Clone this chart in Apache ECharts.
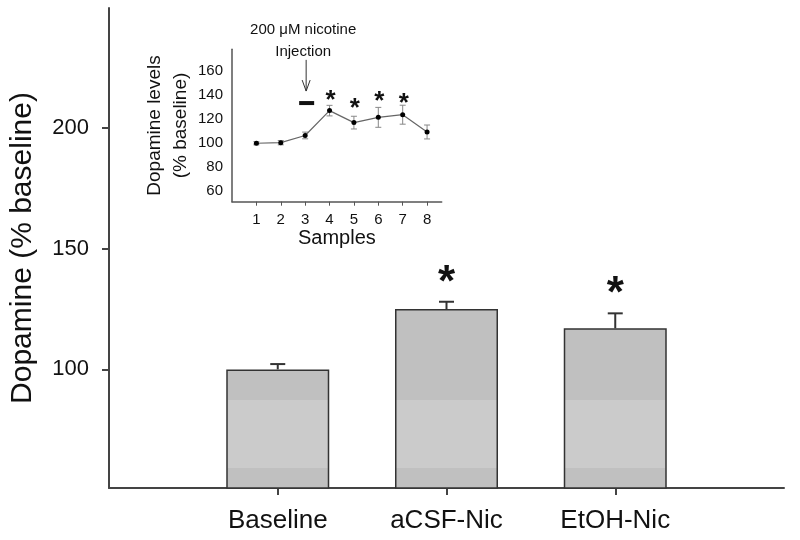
<!DOCTYPE html>
<html><head><meta charset="utf-8">
<script src="https://cdn.jsdelivr.net/npm/echarts@6/dist/echarts.min.js"></script>
<style>html,body{margin:0;padding:0;background:#fff}#c{width:800px;height:540px}</style>
</head><body><div id="c"></div>
<script>
// ---- main chart data ----
const groups = ['Baseline', 'aCSF-Nic', 'EtOH-Nic'];
const groupMeans = [100, 125, 117];
const groupSEM = [2.2, 3.0, 6.2];
const groupSig = [false, true, true];
const mainYTicks = [100, 150, 200];

// ---- inset data ----
const samples = [1, 2, 3, 4, 5, 6, 7, 8];
const sampleMeans = [99.5, 100, 106, 126.7, 116.7, 121.1, 123.3, 108.9];
const sampleSEM = [1.3, 1.8, 2.8, 4.4, 5.3, 8.3, 7.9, 5.8];
const starSamples = [4, 5, 6, 7];
const starLevels = [140, 133, 139, 137.5];
const insetYTicks = [60, 80, 100, 120, 140, 160];
const injectionSample = 3;
const arrowTopLevel = 169;
const arrowTipLevel = 143;
const dashLevel = 133;

const FONT = 'Liberation Sans, Arial, sans-serif';
const axisData = ['\u2002'].concat(groups, ['\u2003']);

const chart = echarts.init(document.getElementById('c'), null, {renderer: 'canvas'});

const barFill = new echarts.graphic.LinearGradient(0, 0, 0, 540, [
  {offset: 0, color: '#c0c0c0'},
  {offset: 400.5 / 540, color: '#c0c0c0'},
  {offset: 400.5 / 540, color: '#cbcbcb'},
  {offset: 468 / 540, color: '#cbcbcb'},
  {offset: 468 / 540, color: '#c0c0c0'},
  {offset: 1, color: '#c0c0c0'}
], true);

const option = {
  animation: false,
  backgroundColor: '#fff',
  grid: [
    {left: 106, right: 10, top: 8, bottom: 52, containLabel: false},
    {left: 232, right: 358.3, top: 49.3, bottom: 338.3, containLabel: false}
  ],
  xAxis: [
    {
      type: 'category', gridIndex: 0, data: axisData, boundaryGap: false,
      axisLine: {lineStyle: {color: '#444', width: 2}},
      axisTick: {show: true, length: 7, lineStyle: {color: '#444', width: 2},
        interval: function (idx, val) { return groups.indexOf(val) >= 0; }},
      axisLabel: {interval: 0, margin: 20, fontSize: 26, color: '#111', fontFamily: FONT},
      splitLine: {show: false}
    },
    {
      type: 'value', gridIndex: 1, min: 0, max: 8.6,
      axisLine: {lineStyle: {color: '#555', width: 1.5}},
      axisTick: {show: true, length: 4, customValues: samples, lineStyle: {color: '#555', width: 1}},
      axisLabel: {customValues: samples, margin: 11, fontSize: 15, color: '#111', fontFamily: FONT},
      splitLine: {show: false},
      name: 'Samples', nameLocation: 'middle', nameGap: 26,
      nameTextStyle: {fontSize: 20, color: '#111', fontFamily: FONT}
    }
  ],
  yAxis: [
    {
      type: 'value', gridIndex: 0, min: 50.9, max: 249.6,
      axisLine: {show: true, lineStyle: {color: '#444', width: 2}},
      axisTick: {show: true, length: 7, customValues: mainYTicks, lineStyle: {color: '#444', width: 2}},
      axisLabel: {customValues: mainYTicks, margin: 20, fontSize: 22, color: '#111', fontFamily: FONT},
      splitLine: {show: false},
      name: 'Dopamine (% baseline)', nameLocation: 'middle', nameGap: 71,
      nameTextStyle: {fontSize: 30, color: '#111', fontFamily: FONT}
    },
    {
      type: 'value', gridIndex: 1, min: 50.8, max: 177.8,
      axisLine: {show: true, lineStyle: {color: '#555', width: 1.5}},
      axisTick: {show: false},
      axisLabel: {customValues: insetYTicks, margin: 9, fontSize: 15, color: '#111', fontFamily: FONT},
      splitLine: {show: false},
      name: 'Dopamine levels\n(% baseline)', nameLocation: 'middle', nameGap: 37,
      nameTextStyle: {fontSize: 19, lineHeight: 26, color: '#111', fontFamily: FONT}
    }
  ],
  series: [
    {
      type: 'bar', xAxisIndex: 0, yAxisIndex: 0, barWidth: 103,
      data: groups.map((g, i) => [g, groupMeans[i]]),
      itemStyle: {color: barFill, borderColor: '#333', borderWidth: 1.5},
      z: 2
    },
    {
      type: 'custom', xAxisIndex: 0, yAxisIndex: 0, z: 3,
      data: groups.map((g, i) => [g, groupMeans[i], groupSEM[i], groupSig[i] ? 1 : 0]),
      renderItem: function (params, api) {
        const base = api.coord([api.value(0), api.value(1)]);
        const top = api.coord([api.value(0), api.value(1) + api.value(2)]);
        const children = [
          {type: 'line', shape: {x1: base[0], y1: base[1], x2: top[0], y2: top[1]}, style: {stroke: '#333', lineWidth: 2}},
          {type: 'line', shape: {x1: top[0] - 7.5, y1: top[1], x2: top[0] + 7.5, y2: top[1]}, style: {stroke: '#333', lineWidth: 2}}
        ];
        if (api.value(3)) {
          children.push({type: 'text', x: top[0], y: top[1] - 18,
            style: {text: '*', fontSize: 44, fontWeight: 'bold', fontFamily: FONT, fill: '#111', align: 'center', verticalAlign: 'middle'}});
        }
        return {type: 'group', children: children};
      }
    },
    {
      type: 'custom', xAxisIndex: 1, yAxisIndex: 1, z: 3,
      data: samples.map((s, i) => [s, sampleMeans[i], sampleSEM[i]]),
      renderItem: function (params, api) {
        const lo = api.coord([api.value(0), api.value(1) - api.value(2)]);
        const hi = api.coord([api.value(0), api.value(1) + api.value(2)]);
        const st = {stroke: '#888', lineWidth: 1};
        return {type: 'group', children: [
          {type: 'line', shape: {x1: lo[0], y1: lo[1], x2: hi[0], y2: hi[1]}, style: st},
          {type: 'line', shape: {x1: lo[0] - 3, y1: lo[1], x2: lo[0] + 3, y2: lo[1]}, style: st},
          {type: 'line', shape: {x1: hi[0] - 3, y1: hi[1], x2: hi[0] + 3, y2: hi[1]}, style: st}
        ]};
      }
    },
    {
      type: 'line', xAxisIndex: 1, yAxisIndex: 1, z: 4,
      data: samples.map((s, i) => [s, sampleMeans[i]]),
      symbol: 'circle', symbolSize: 5, showSymbol: true,
      lineStyle: {color: '#666', width: 1.2},
      itemStyle: {color: '#000', borderWidth: 0}
    },
    {
      type: 'custom', xAxisIndex: 1, yAxisIndex: 1, z: 4,
      data: starSamples.map((s, i) => [s, starLevels[i]]),
      renderItem: function (params, api) {
        const p = api.coord([api.value(0), api.value(1)]);
        return {type: 'text', x: p[0] + 1, y: p[1] + 6,
          style: {text: '*', fontSize: 26, fontWeight: 'bold', fontFamily: FONT, fill: '#111', align: 'center', verticalAlign: 'middle'}};
      }
    },
    {
      type: 'custom', xAxisIndex: 1, yAxisIndex: 1, z: 4, clip: false,
      data: [[injectionSample, arrowTopLevel, arrowTipLevel, dashLevel]],
      renderItem: function (params, api) {
        const top = api.coord([api.value(0), api.value(1)]);
        const tip = api.coord([api.value(0), api.value(2)]);
        const dash = api.coord([api.value(0), api.value(3)]);
        const x = tip[0] + 1;
        const txt = {fontSize: 15, fontFamily: FONT, fill: '#111', align: 'center', verticalAlign: 'middle'};
        return {type: 'group', children: [
          {type: 'line', shape: {x1: x, y1: top[1], x2: x, y2: tip[1]}, style: {stroke: '#333', lineWidth: 1}},
          {type: 'polyline', shape: {points: [[x - 4, tip[1] - 11], [x, tip[1]], [x + 4, tip[1] - 11]]}, style: {stroke: '#333', fill: null, lineWidth: 1}},
          {type: 'rect', shape: {x: dash[0] - 6, y: dash[1] - 2, width: 15, height: 4}, style: {fill: '#111'}},
          {type: 'text', x: x - 3, y: top[1] - 8, style: Object.assign({text: 'Injection'}, txt)},
          {type: 'text', x: x - 3, y: top[1] - 30, style: Object.assign({text: '200 \u03bcM nicotine'}, txt)}
        ]};
      }
    }
  ]
};
chart.setOption(option);
</script>
</body></html>
